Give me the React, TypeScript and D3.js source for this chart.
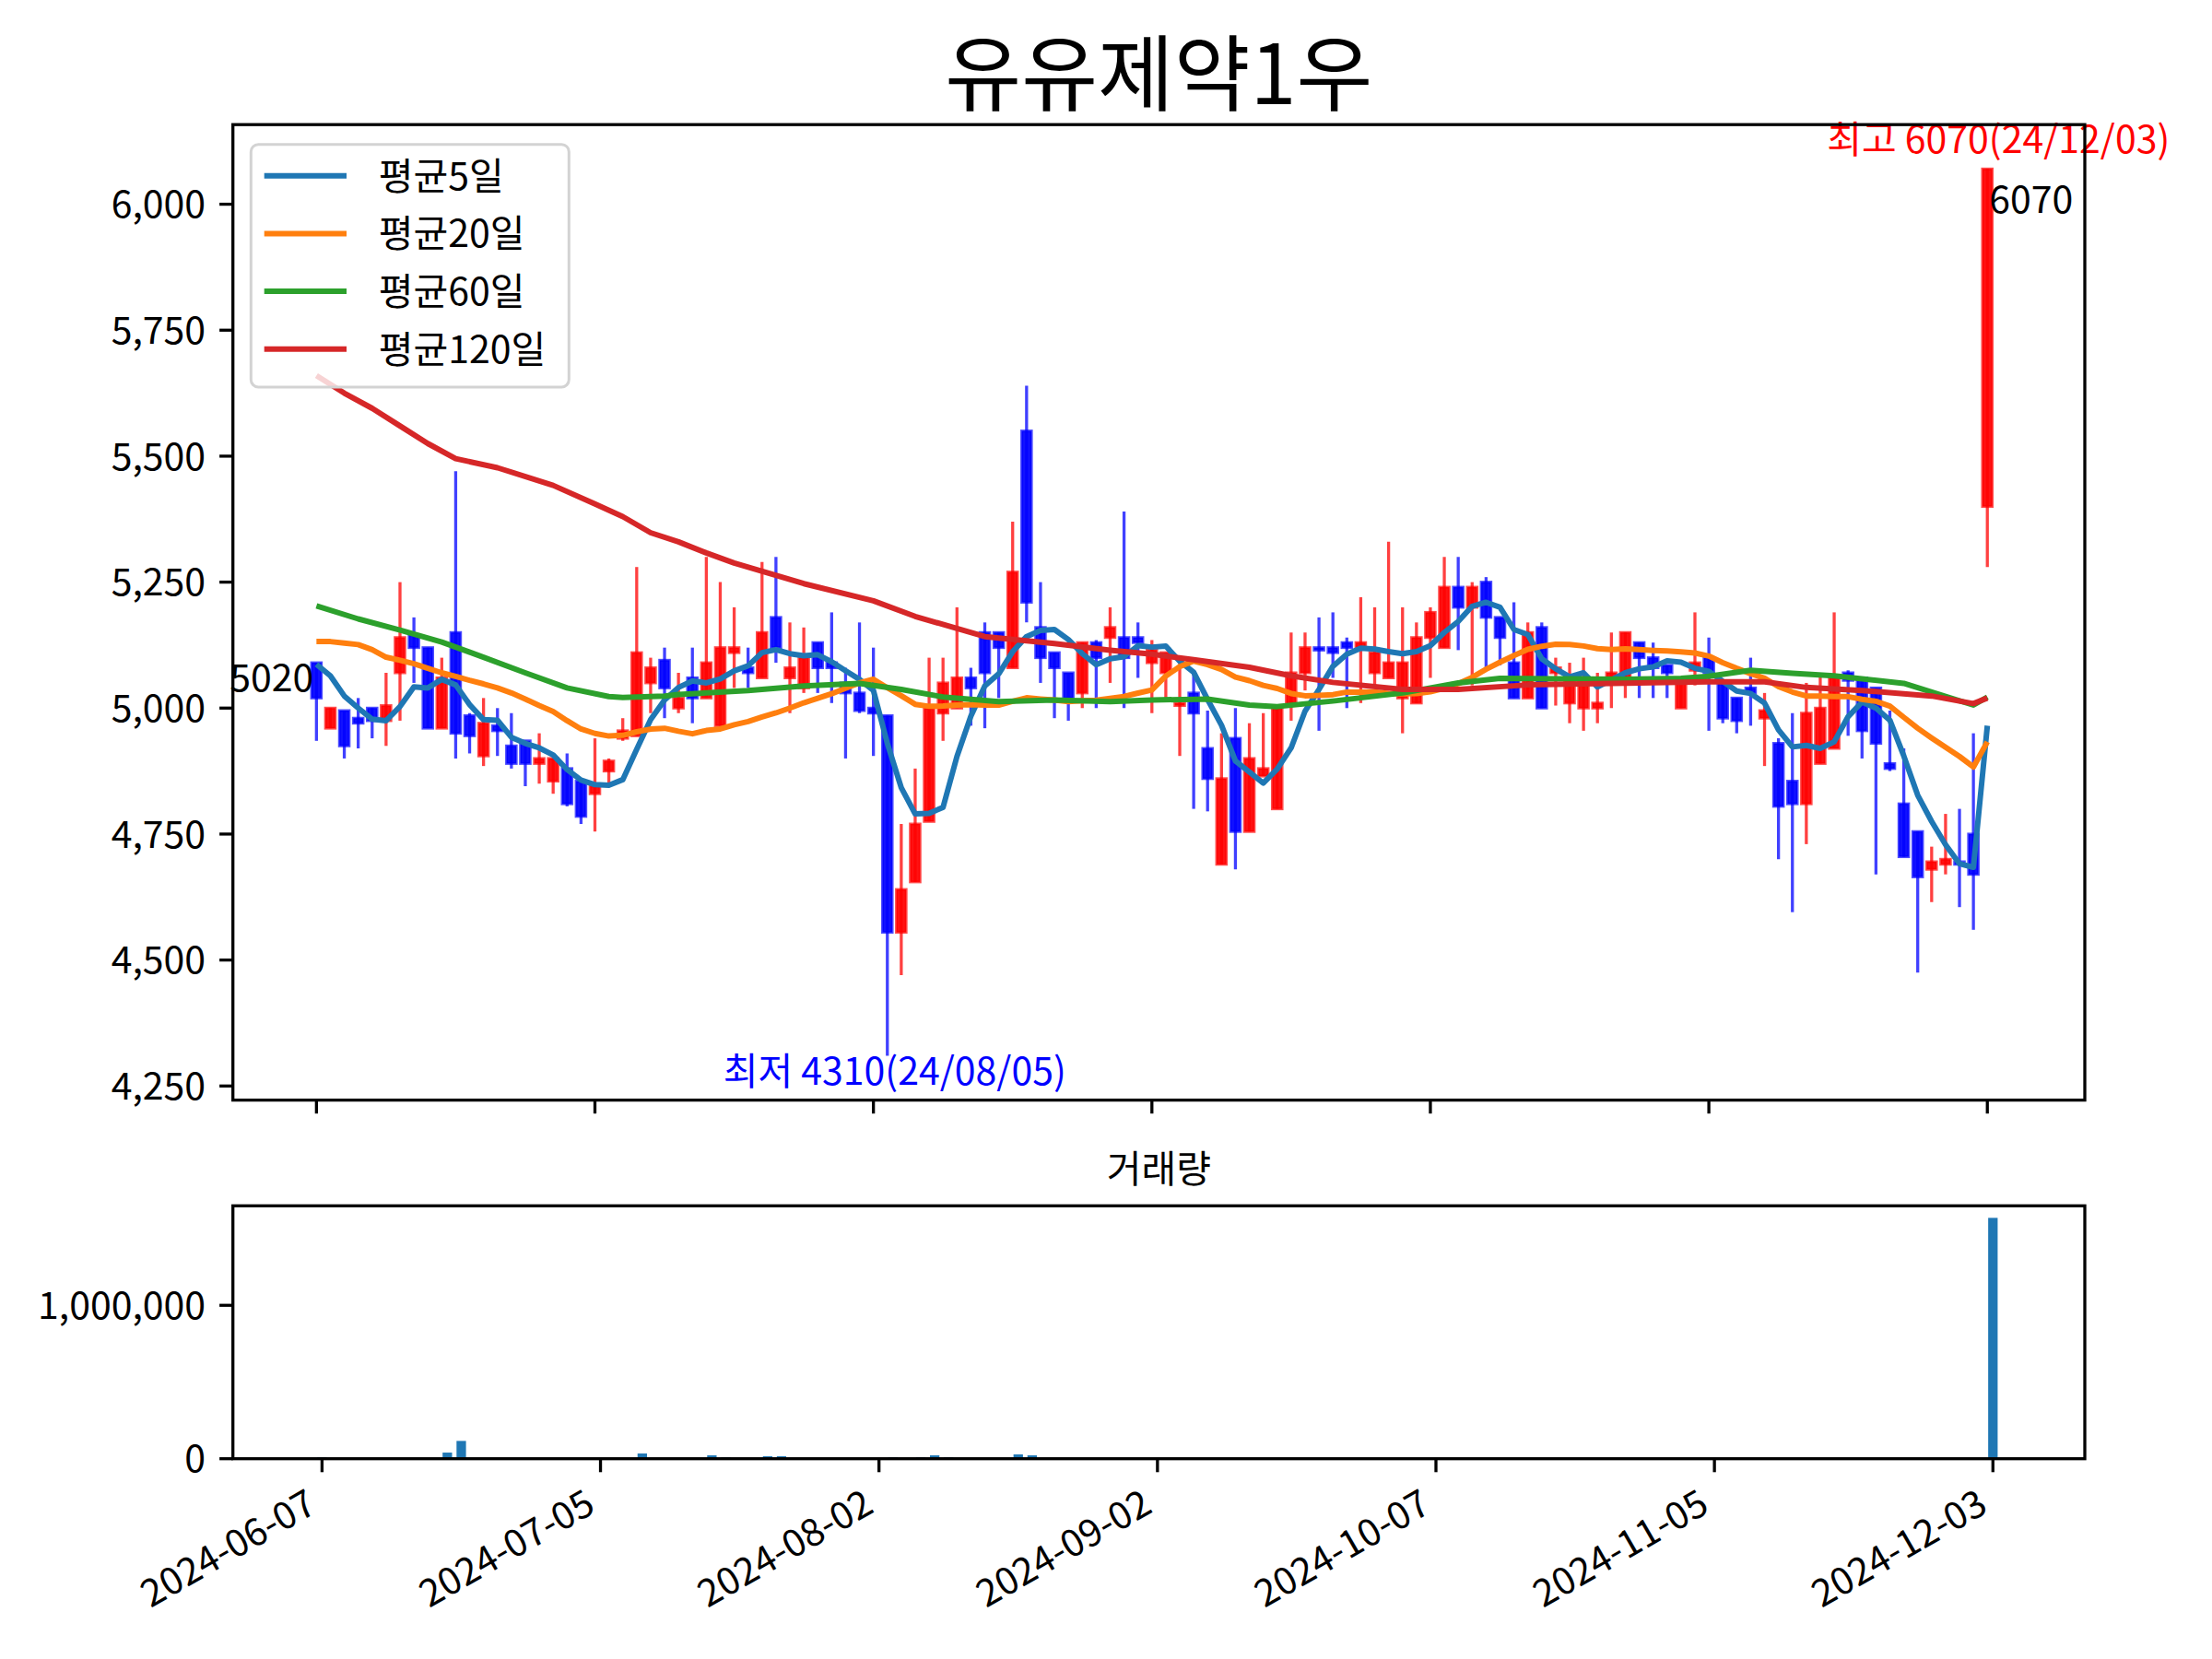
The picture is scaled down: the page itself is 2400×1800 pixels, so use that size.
import React from 'react';
import * as d3 from 'd3';

const TITLE = '유유제약1우';
const VOL_TITLE = '거래량';
const dateLabels = ['2024-06-07', '2024-07-05', '2024-08-02', '2024-09-02', '2024-10-07', '2024-11-05', '2024-12-03'];
const dateTickIdx = [0, 20, 40, 60, 80, 100, 120];

const opens = [
  5090, 4960, 4995, 4980, 5000, 4975, 5070, 5145, 5120, 4960,
  5150, 4985, 4905, 4965, 4925, 4935, 4890, 4855, 4880, 4855,
  4830, 4875, 4940, 4945, 5050, 5095, 5000, 5060, 5020, 4965,
  5110, 5080, 5060, 5180, 5060, 5040, 5130, 5090, 5050, 5030,
  5000, 4985, 4555, 4655, 4775, 4990, 5000, 5060, 5150, 5150,
  5080, 5550, 5160, 5110, 5070, 5030, 5130, 5140, 5140, 5140,
  5090, 5070, 5005, 5030, 4920, 4690, 4940, 4755, 4865, 4800,
  5005, 5070, 5120, 5120, 5130, 5120, 5070, 5060, 5020, 5010,
  5140, 5120, 5240, 5200, 5250, 5180, 5090, 5020, 5160, 5070,
  5010, 5000, 5000, 5060, 5060, 5130, 5100, 5085, 5000, 5075,
  5100, 5050, 5020, 5040, 4980, 4930, 4855, 4810, 4890, 4920,
  5070, 5060, 5040, 4890, 4810, 4755, 4680, 4690, 4695, 4750,
  5400,
];
const highs = [
  5090, 5000, 4995, 5020, 5000, 5070, 5250, 5180, 5120, 5100,
  5470, 4990, 5020, 5000, 4990, 4935, 4950, 4900, 4910, 4855,
  4940, 4900, 4980, 5280, 5100, 5120, 5070, 5120, 5300, 5250,
  5200, 5120, 5290, 5300, 5170, 5160, 5130, 5190, 5080, 5170,
  5120, 4985, 4770, 4880, 5100, 5100, 5200, 5080, 5170, 5150,
  5370, 5640, 5250, 5110, 5070, 5130, 5135, 5200, 5390, 5170,
  5135, 5110, 5090, 5075, 4995, 4950, 5000, 4970, 4990, 5000,
  5150, 5150, 5180, 5190, 5140, 5220, 5200, 5330, 5200, 5170,
  5200, 5300, 5300, 5250, 5260, 5180, 5210, 5170, 5170, 5100,
  5090, 5100, 5070, 5150, 5150, 5130, 5130, 5085, 5060, 5190,
  5140, 5050, 5020, 5100, 5030, 4940, 4990, 5050, 5070, 5190,
  5075, 5060, 5040, 4995, 4920, 4755, 4725, 4790, 4800, 4950,
  6070,
];
const lows = [
  4935, 4960, 4900, 4920, 4940, 4925, 4975, 5050, 4960, 4960,
  4900, 4910, 4885, 4905, 4880, 4845, 4850, 4830, 4805, 4770,
  4755, 4845, 4935, 4945, 4990, 4980, 4990, 4970, 5020, 4965,
  5040, 5040, 5060, 5090, 4990, 5030, 5030, 5010, 4900, 4990,
  4905, 4310, 4470, 4655, 4775, 4935, 5000, 4965, 4960, 5020,
  5080, 5170, 5050, 4980, 4975, 5000, 5000, 5050, 5000, 5060,
  4990, 5015, 4905, 4800, 4795, 4690, 4680, 4755, 4865, 4800,
  4975, 5035, 4955, 5060, 5000, 5010, 5045, 5060, 4950, 5010,
  5060, 5120, 5115, 5045, 5075, 5085, 5020, 5020, 5000, 5005,
  4970, 4955, 4970, 5000, 5020, 5020, 5020, 5020, 5000, 5045,
  4955, 4970, 4950, 4965, 4885, 4700, 4595, 4730, 4890, 4920,
  4945, 4900, 4670, 4875, 4705, 4475, 4615, 4670, 4605, 4560,
  5280,
];
const closes = [
  5020, 5000, 4925, 4970, 4975, 5005, 5140, 5120, 4960, 5060,
  4950, 4945, 4970, 4955, 4890, 4890, 4900, 4900, 4810, 4785,
  4845, 4895, 4955, 5110, 5080, 5040, 5020, 5020, 5090, 5120,
  5120, 5070, 5150, 5120, 5080, 5100, 5080, 5080, 5030, 4995,
  4990, 4555, 4640, 4770, 5000, 5050, 5060, 5040, 5070, 5120,
  5270, 5210, 5100, 5080, 5020, 5130, 5100, 5160, 5100, 5130,
  5115, 5110, 5010, 4990, 4860, 4860, 4755, 4900, 4880, 5000,
  5070, 5120, 5115, 5110, 5120, 5130, 5110, 5090, 5090, 5140,
  5190, 5240, 5200, 5240, 5180, 5140, 5020, 5150, 5000, 5080,
  5060, 5060, 5010, 5070, 5150, 5100, 5080, 5070, 5055, 5090,
  5070, 4980, 4975, 5030, 4995, 4805, 4810, 4990, 5000, 5060,
  5055, 4955, 4930, 4880, 4705, 4665, 4695, 4700, 4690, 4670,
  6070,
];
const volumes = [
  10000, 2000, 2000, 2000, 2000, 2000, 2000, 2000, 2000, 40000,
  116000, 2000, 2000, 2000, 2000, 2000, 2000, 2000, 2000, 2000,
  2000, 2000, 2000, 34000, 2000, 2000, 2000, 2000, 22000, 10000,
  2000, 2000, 16000, 16000, 2000, 2000, 2000, 2000, 2000, 2000,
  2000, 10000, 2000, 10000, 22000, 10000, 2000, 2000, 2000, 2000,
  28000, 22000, 2000, 2000, 2000, 2000, 2000, 2000, 2000, 2000,
  2000, 2000, 2000, 2000, 2000, 2000, 2000, 2000, 2000, 2000,
  2000, 2000, 2000, 2000, 2000, 2000, 2000, 2000, 2000, 2000,
  2000, 2000, 2000, 2000, 2000, 2000, 2000, 2000, 2000, 2000,
  2000, 2000, 2000, 2000, 2000, 2000, 2000, 2000, 2000, 2000,
  2000, 2000, 2000, 2000, 2000, 2000, 2000, 2000, 2000, 2000,
  2000, 2000, 2000, 2000, 2000, 2000, 2000, 2000, 2000, 2000,
  1570000,
];

// moving-average values before the full window is available
const ma5Head = [5087, 5064, 5024, 5000];
const ma20Head = [5132, 5132, 5129, 5126, 5116, 5101, 5095, 5088, 5079, 5070, 5063, 5055, 5048, 5040, 5030, 5018, 5005, 4993, 4975];
const ma60Idx = [0, 3, 6, 9, 12, 15, 18, 21, 22, 25, 26, 31, 35, 39, 42, 45, 49, 53, 57, 60, 64, 67, 69, 73, 78, 82, 85, 89, 94, 98, 100, 103, 106, 109, 114, 119, 120];
const ma60Val = [5203, 5177, 5155, 5131, 5101, 5070, 5040, 5023, 5021, 5024, 5027, 5035, 5044, 5049, 5037, 5022, 5013, 5016, 5013, 5016, 5018, 5006, 5003, 5014, 5030, 5050, 5059, 5058, 5057, 5059, 5063, 5075, 5069, 5064, 5049, 5006, 5022];
const ma120Idx = [0, 2, 4, 6, 8, 10, 13, 17, 20, 22, 24, 26, 28, 30, 35, 40, 43, 48, 53, 57, 60, 63, 67, 70, 73, 78, 82, 87, 93, 100, 104, 107, 111, 116, 119, 120];
const ma120Val = [5660, 5625, 5595, 5560, 5525, 5495, 5477, 5442, 5405, 5380, 5348, 5330, 5308, 5288, 5247, 5213, 5182, 5142, 5128, 5115, 5107, 5096, 5081, 5064, 5051, 5037, 5037, 5046, 5049, 5052, 5052, 5041, 5035, 5024, 5009, 5020];

const priceTicks = [4250, 4500, 4750, 5000, 5250, 5500, 5750, 6000];
const volTicks = [0, 1000000];
const legendLabels = ['평균5일', '평균20일', '평균60일', '평균120일'];
const maColors = ['#1f77b4', '#ff7f0e', '#2ca02c', '#d62728'];

const FONT = "'Noto Sans CJK KR', 'Noto Sans', sans-serif";

function movingAvg(win: number, head: number[]): number[] {
  return closes.map((_, i) => (i < win - 1 ? head[i] : (d3.mean(closes.slice(i - win + 1, i + 1)) as number)));
}

export default function App() {
  const W = 2400, H = 1800;
  const L = 252.7, R = 2262;
  const mTop = 135.2, mBot = 1193.6;
  const vTop = 1308.3, vBot = 1582.7;
  const n = closes.length;

  const x = d3.scaleLinear().domain([-6, 127]).range([L, R]);
  const xv = d3.scaleLinear().domain([-6.4, 126.6]).range([L, R]);
  const y = d3.scaleLinear().domain([4222, 6158]).range([mBot, mTop]);
  const vmax = d3.max(volumes) as number;
  const yv = d3.scaleLinear().domain([0, vmax * 1.05]).range([vBot, vTop]);
  const unit = x(1) - x(0);
  const bodyW = unit * 0.7;
  const volW = unit * 0.68;

  const ma5 = movingAvg(5, ma5Head);
  const ma20 = movingAvg(20, ma20Head);
  const idx = d3.range(n);
  const line = d3.line<[number, number]>().x((d) => x(d[0])).y((d) => y(d[1]));
  const maPaths = [
    line(idx.map((i) => [i, ma5[i]] as [number, number])),
    line(idx.map((i) => [i, ma20[i]] as [number, number])),
    line(ma60Idx.map((i, k) => [i, ma60Val[k]] as [number, number])),
    line(ma120Idx.map((i, k) => [i, ma120Val[k]] as [number, number])),
  ];

  const fmt = d3.format(',');
  const tickLen = 14.6;
  const fs = 41;

  const iMax = d3.maxIndex(highs);
  const iMin = d3.minIndex(lows);

  return (
    <svg width={W} height={H} style={{ position: 'absolute', left: 0, top: 0, background: '#fff' }} fontFamily={FONT}>
      <rect x={0} y={0} width={W} height={H} fill="#fff" />
      <defs>
        <clipPath id="mainClip">
          <rect x={L} y={mTop} width={R - L} height={mBot - mTop} />
        </clipPath>
      </defs>
      {/* title */}
      <text x={(L + R) / 2} y={113} textAnchor="middle" fontSize={90} fill="#000">{TITLE}</text>

      {/* candles */}
      <g clipPath="url(#mainClip)">
        {idx.map((i) => {
          const up = closes[i] >= opens[i];
          const col = up ? '#ff0000' : '#0000ff';
          const top = y(Math.max(opens[i], closes[i]));
          const bot = y(Math.min(opens[i], closes[i]));
          return (
            <g key={i}>
              <line x1={x(i)} x2={x(i)} y1={y(highs[i])} y2={y(lows[i])} stroke={col} strokeOpacity={0.75} strokeWidth={3.3} />
              <rect x={x(i) - bodyW / 2} y={top} width={bodyW} height={Math.max(bot - top, 1)} fill={col} fillOpacity={0.93} stroke={col} strokeOpacity={0.7} strokeWidth={3} />
            </g>
          );
        })}
        {maPaths.map((p, k) => (
          <path key={k} d={p || ''} fill="none" stroke={maColors[k]} strokeWidth={6} strokeLinejoin="round" />
        ))}
      </g>

      {/* annotations */}
      <text x={x(0) - 3} y={750} textAnchor="end" fontSize={fs} fill="#000">{closes[0]}</text>
      <text x={x(n - 1) + 2} y={231} textAnchor="start" fontSize={fs} fill="#000">{closes[n - 1]}</text>
      <text x={x(iMax) + 12} y={y(highs[iMax]) - 17} textAnchor="middle" fontSize={fs} fill="#ff0000">{`최고 ${highs[iMax]}(24/12/03)`}</text>
      <text x={x(iMin) + 8} y={y(lows[iMin]) + 32} textAnchor="middle" fontSize={fs} fill="#0000ff">{`최저 ${lows[iMin]}(24/08/05)`}</text>

      {/* main axes frame */}
      <rect x={L} y={mTop} width={R - L} height={mBot - mTop} fill="none" stroke="#000" strokeWidth={3.3} />
      {priceTicks.map((t) => (
        <g key={t}>
          <line x1={L - tickLen} x2={L} y1={y(t)} y2={y(t)} stroke="#000" strokeWidth={3.3} />
          <text x={L - tickLen - 15} y={y(t)} dy="0.36em" textAnchor="end" fontSize={fs} fill="#000">{fmt(t)}</text>
        </g>
      ))}
      {dateTickIdx.map((t) => (
        <line key={t} x1={x(t)} x2={x(t)} y1={mBot} y2={mBot + tickLen} stroke="#000" strokeWidth={3.3} />
      ))}

      {/* legend */}
      <rect x={272.3} y={156.7} width={345} height={263.3} rx={8} fill="#fff" fillOpacity={0.8} stroke="#d3d3d3" strokeWidth={3} />
      {legendLabels.map((lab, k) => {
        const ly = 190.7 + k * 62.7;
        return (
          <g key={lab}>
            <line x1={286.7} x2={376} y1={ly} y2={ly} stroke={maColors[k]} strokeWidth={6} />
            <text x={410.7} y={ly + 15} fontSize={fs} fill="#000">{lab}</text>
          </g>
        );
      })}

      {/* volume */}
      <text x={(L + R) / 2} y={vTop - 25} textAnchor="middle" fontSize={fs} fill="#000">{VOL_TITLE}</text>
      {idx.map((i) => (
        <rect key={i} x={xv(i) - volW / 2} y={yv(volumes[i])} width={volW} height={vBot - yv(volumes[i])} fill="#1f77b4" />
      ))}
      <rect x={L} y={vTop} width={R - L} height={vBot - vTop} fill="none" stroke="#000" strokeWidth={3.3} />
      {volTicks.map((t) => (
        <g key={t}>
          <line x1={L - tickLen} x2={L} y1={yv(t)} y2={yv(t)} stroke="#000" strokeWidth={3.3} />
          <text x={L - tickLen - 15} y={yv(t)} dy="0.36em" textAnchor="end" fontSize={fs} fill="#000">{fmt(t)}</text>
        </g>
      ))}
      {dateTickIdx.map((t, k) => {
        const tx = xv(t);
        const ax = tx - 20;
        const ay = vBot + tickLen + 14;
        return (
          <g key={t}>
            <line x1={tx} x2={tx} y1={vBot} y2={vBot + tickLen} stroke="#000" strokeWidth={3.3} />
            <text x={ax} y={ay} dy="0.8em" textAnchor="end" fontSize={fs} fill="#000" transform={`rotate(-30, ${ax}, ${ay})`}>{dateLabels[k]}</text>
          </g>
        );
      })}
    </svg>
  );
}
